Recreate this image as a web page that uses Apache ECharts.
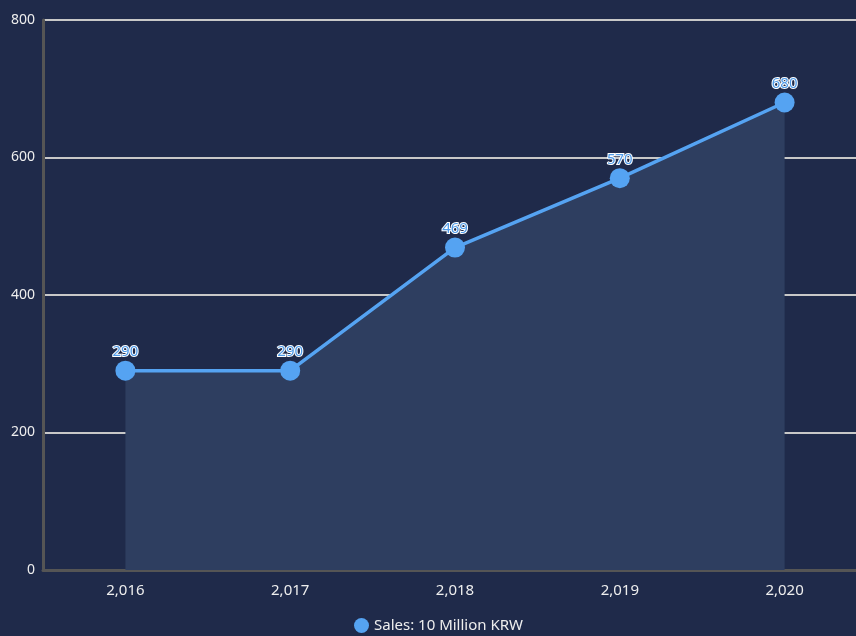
<!DOCTYPE html>
<html>
<head>
<meta charset="utf-8">
<script src="https://cdn.jsdelivr.net/npm/echarts@6/dist/echarts.min.js"></script>
<style>
  html, body { margin: 0; padding: 0; background: #1f2a4a; }
  #chart { width: 856px; height: 636px; }
</style>
</head>
<body>
<div id="chart"></div>
<script>
const years = ['2,016', '2,017', '2,018', '2,019', '2,020']
const sales = [290, 290, 469, 570, 680]
const seriesName = 'Sales: 10 Million KRW'

const chart = echarts.init(document.getElementById('chart'))
chart.setOption({
  backgroundColor: '#1f2a4a',
  animation: false,
  textStyle: {fontFamily: 'Noto Sans'},
  // plot area runs a bit past the right edge of the canvas
  grid: {left: 43, width: 824, top: 20, height: 550, outerBoundsMode: 'none'},
  legend: {
    bottom: -2,
    left: 349,
    icon: 'circle',
    itemWidth: 15,
    itemHeight: 15,
    itemGap: 6,
    textStyle: {color: '#eeeeee', fontSize: 15, fontFamily: 'Noto Sans'},
    data: [seriesName]
  },
  xAxis: {
    type: 'category',
    data: years,
    boundaryGap: true,
    axisLine: {lineStyle: {color: '#555555', width: 3}},
    axisTick: {show: false},
    axisLabel: {color: '#eeeeee', fontSize: 15, margin: 13}
  },
  yAxis: {
    type: 'value',
    min: 0,
    max: 800,
    interval: 200,
    axisLine: {show: true, lineStyle: {color: '#555555', width: 3}},
    axisTick: {show: false},
    axisLabel: {color: '#eeeeee', fontSize: 14, margin: 8},
    splitLine: {lineStyle: {color: '#c8c8c8', width: 2}}
  },
  series: [
    {
      name: seriesName,
      type: 'line',
      data: sales,
      color: '#55a3f2',
      symbol: 'circle',
      symbolSize: 20,
      lineStyle: {width: 3.5, color: '#55a3f2'},
      itemStyle: {color: '#55a3f2'},
      areaStyle: {color: '#2e3e60', opacity: 1},
      label: {
        show: true,
        position: 'top',
        distance: 1,
        color: '#4f9ae8',
        fontSize: 15,
        textBorderColor: '#ffffff',
        textBorderWidth: 2
      }
    }
  ]
})
</script>
</body>
</html>
